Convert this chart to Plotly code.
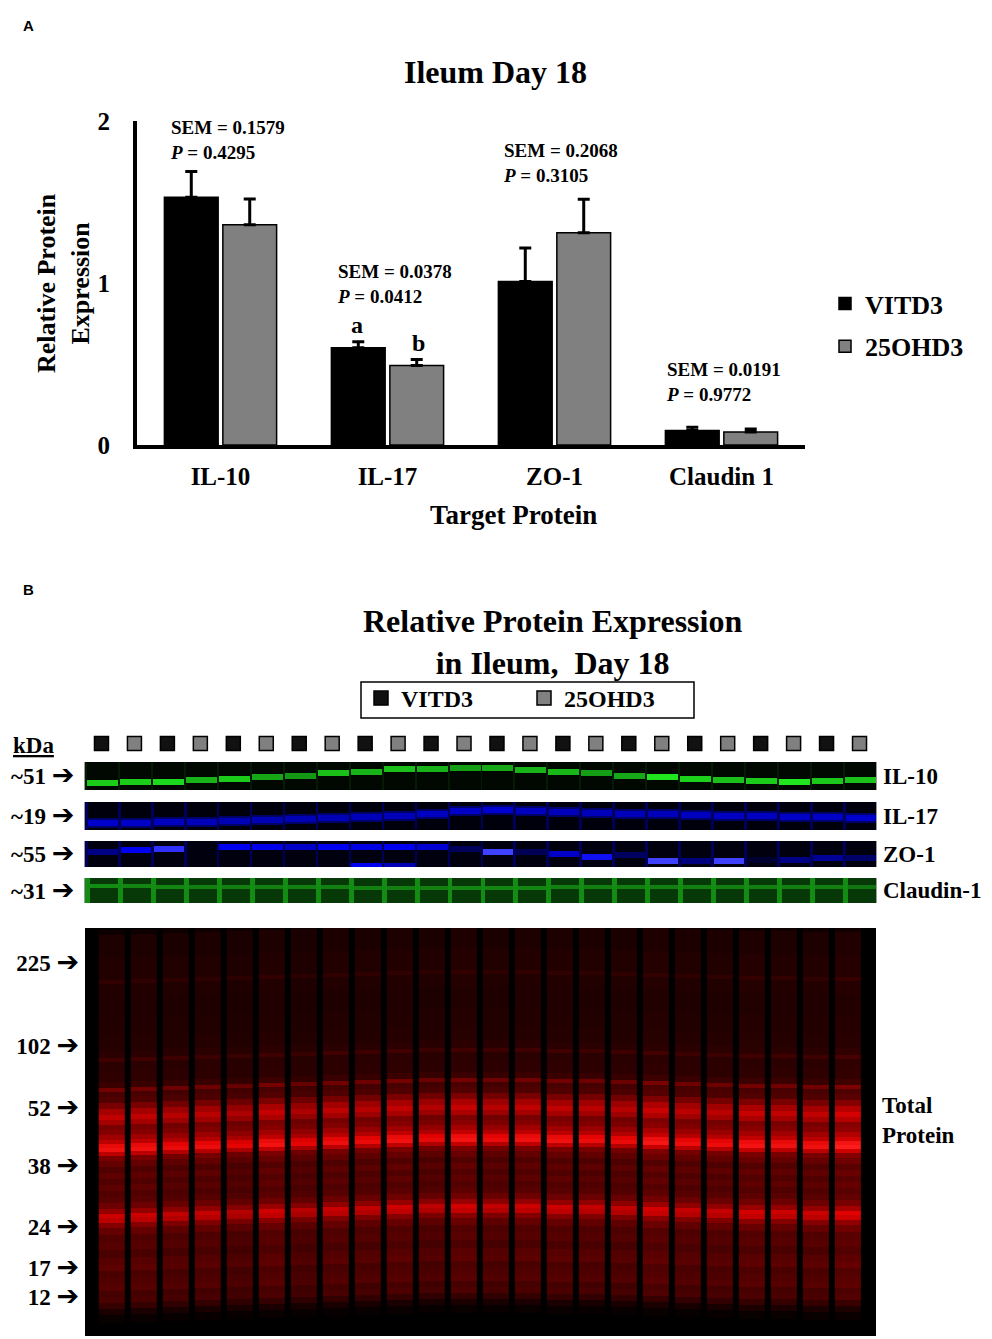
import plotly.graph_objects as go

# --- panel A data ---
CATEGORIES = ["IL-10", "IL-17", "ZO-1", "Claudin 1"]
VITD3 = [1.53, 0.60, 1.01, 0.09]
OHD3 = [1.36, 0.49, 1.31, 0.08]
SEM = [0.1579, 0.0378, 0.2068, 0.0191]
P_VALUES = ["0.4295", "0.0412", "0.3105", "0.9772"]
Y_TICKS = [0, 1, 2]

# --- panel B data ---
N_LANES = 24
LANE_GROUP = ["VITD3", "25OHD3"] * 12
STRIP_NAMES = ["IL-10", "IL-17", "ZO-1", "Claudin-1"]
STRIP_KDA = ["~51", "~19", "~55", "~31"]

# band centre (px from strip top) and brightness per lane
IL10_POS = [21, 20, 20, 18, 17, 15, 14, 11, 10, 7, 7, 6, 6, 8, 10, 11, 14, 15, 17, 18, 19, 20, 19, 18]
IL10_INT = [0.8, 0.8, 0.85, 0.7, 0.8, 0.65, 0.6, 0.75, 0.7, 0.75, 0.7, 0.62, 0.66, 0.7, 0.72,
            0.62, 0.66, 0.9, 0.82, 0.75, 0.8, 0.9, 0.78, 0.76]
IL17_POS = [21, 21, 20, 20, 19, 18, 17, 16, 15, 14, 12, 9, 8, 9, 10, 11, 12, 12, 13, 14, 14, 15, 15, 16]
IL17_INT = [0.68, 0.66, 0.64, 0.62, 0.6, 0.6, 0.6, 0.6, 0.62, 0.62, 0.64, 0.66, 0.7, 0.64,
            0.62, 0.62, 0.62, 0.62, 0.64, 0.64, 0.64, 0.66, 0.66, 0.68]
ZO1_POS = [11, 9, 8, 8, 6, 6, 6, 6, 6, 6, 6, 8, 11, 11, 13, 16, 14, 20, 20, 20, 19, 19, 17, 17]
ZO1_INT = [0.45, 0.8, 0.95, 0.05, 0.8, 0.78, 0.66, 0.8, 0.76, 0.8, 0.7, 0.3, 1.0, 0.28,
           0.66, 0.85, 0.32, 1.0, 0.42, 1.0, 0.16, 0.45, 0.5, 0.35]
ZO1_LOW_INT = [0, 0, 0, 0, 0, 0, 0, 0, 0.8, 0.6, 0, 0, 0, 0, 0, 0, 0, 0, 0, 0, 0, 0, 0, 0]
CLD_POS = [8, 8, 9, 9, 9, 9, 9, 9, 10, 10, 10, 10, 10, 10, 9, 9, 9, 9, 9, 9, 9, 9, 9, 9]
CLD_INT = [0.55, 0.52, 0.52, 0.5, 0.5, 0.5, 0.5, 0.5, 0.5, 0.5, 0.5, 0.52, 0.52, 0.52,
           0.5, 0.5, 0.5, 0.5, 0.5, 0.5, 0.5, 0.5, 0.5, 0.46]

# total protein lane profile: distance from blot top (px) and brightness
PROFILE_Y = [0, 4, 10, 25, 35, 50, 54, 58, 80, 100, 118, 128, 132, 136, 150, 158, 162, 165,
             172, 178, 184, 190, 194, 199, 204, 209, 214, 218, 222, 226, 230, 236, 242, 248,
             254, 260, 266, 272, 278, 284, 288, 292, 297, 303, 310, 318, 326, 334, 340, 346,
             353, 360, 366, 372, 378, 384, 390, 400, 408]
PROFILE_I = [0.0, 0.05, 0.1, 0.1, 0.12, 0.12, 0.17, 0.12, 0.11, 0.12, 0.13, 0.15, 0.22, 0.15,
             0.16, 0.2, 0.4, 0.25, 0.28, 0.42, 0.58, 0.68, 0.58, 0.42, 0.46, 0.56, 0.66, 0.86, 0.92,
             0.66, 0.42, 0.35, 0.28, 0.33, 0.28, 0.32, 0.28, 0.31, 0.38, 0.52, 0.72, 0.66, 0.46, 0.35,
             0.28, 0.3, 0.26, 0.3, 0.32, 0.26, 0.28, 0.3, 0.24, 0.26, 0.18, 0.09, 0.03, 0.0, 0.0]
LANE_GAIN = [0.95, 0.95, 0.9, 0.92, 0.85, 0.97, 0.85, 0.93, 0.9, 0.96, 0.88, 0.98, 0.9, 0.95,
             0.95, 0.92, 0.9, 1.0, 0.92, 0.92, 0.98, 0.95, 0.95, 1.05]
LANE_SHIFT = [0, -1, -2, -3, -4, -5, -6, -7, -8, -9, -10, -10, -10, -10, -9, -9, -8, -7, -6,
              -5, -4, -4, -3, -3]
MARKER_KDA = ["225", "102", "52", "38", "24", "17", "12"]
MARKER_POS = [35, 118, 180, 238, 299, 340, 369]

# the page body adds an 8px margin, so the figure is drawn 8px smaller and offset
PAD = 8
W, H = 992 - PAD, 1339 - PAD
SERIF = "Liberation Serif"
BLACK, GRAY = "#000000", "#808080"
GREEN = [[0, "#000000"], [1, "#22ff22"]]
BLUE = [[0, "#000000"], [0.8, "#0000f0"], [1, "#4040ff"]]
RED = [[0, "#000000"], [0.35, "#6a0000"], [0.75, "#e00000"], [1, "#ff2020"]]
ARROW = " <span style='font-family:DejaVu Sans;font-size:27px'>➔</span>"


def px_x(p):
    return (p - PAD) / W


def px_y(p):
    return 1 - (p - PAD) / H


def strip_grid(height, bg, sep, sep_w, bands):
    """Cells of a blot strip: a separator column then the lane column."""
    x_edges = []
    for i in range(N_LANES):
        x_edges += [i - 0.5, i - 0.5 + sep_w]
    x_edges.append(N_LANES - 0.5)
    z = []
    for r in range(height):
        yc = r + 0.5
        row = []
        for i in range(N_LANES):
            v = bg
            for pos, inten, thick in bands:
                if abs(yc - pos[i]) <= thick / 2:
                    v = max(v, inten[i])
            row += [sep, v]
        z.append(row)
    return x_edges, list(range(height + 1)), z


fig = go.Figure()

# ---------------- panel A: bar chart ----------------
fig.add_trace(go.Bar(
    x=CATEGORIES, y=VITD3, name="VITD3", legendgroup="a1",
    marker=dict(color=BLACK, line=dict(color=BLACK, width=1.5)),
    error_y=dict(type="data", array=SEM, arrayminus=[0] * 4, symmetric=False,
                 color=BLACK, thickness=3, width=6),
))
fig.add_trace(go.Bar(
    x=CATEGORIES, y=OHD3, name="25OHD3", legendgroup="a2",
    marker=dict(color=GRAY, line=dict(color=BLACK, width=1.5)),
    error_y=dict(type="data", array=SEM, arrayminus=[0] * 4, symmetric=False,
                 color=BLACK, thickness=3, width=6),
))

# ---------------- panel B: lane markers ----------------
for grp, col in [("VITD3", "#111111"), ("25OHD3", GRAY)]:
    lanes = [i for i in range(N_LANES) if LANE_GROUP[i] == grp]
    fig.add_trace(go.Scatter(
        x=lanes, y=[0] * len(lanes), mode="markers", name=grp,
        xaxis="x2", yaxis="y2", legend="legend2",
        marker=dict(symbol="square", size=14, color=col, line=dict(color="#000000", width=1.5)),
    ))

# ---------------- panel B: antibody strips ----------------
strips = [
    ("y3", 28, 0.03, 0.1, 0.06, [(IL10_POS, IL10_INT, 5)], GREEN),
    ("y4", 28, 0.04, 0.3, 0.08, [(IL17_POS, [0.35] * N_LANES, 9), (IL17_POS, IL17_INT, 5)], BLUE),
    ("y5", 26, 0.05, 0.3, 0.08, [(ZO1_POS, ZO1_INT, 6), ([24] * N_LANES, ZO1_LOW_INT, 4)], BLUE),
    ("y6", 25, 0.22, 0.55, 0.15, [(CLD_POS, CLD_INT, 3)], GREEN),
]
for yax, h, bg, sep, sep_w, bands, cs in strips:
    xe, ye, z = strip_grid(h, bg, sep, sep_w, bands)
    fig.add_trace(go.Heatmap(x=xe, y=ye, z=z, xaxis="x2", yaxis=yax, colorscale=cs,
                             zmin=0, zmax=1, showscale=False, hoverinfo="skip"))

# ---------------- panel B: total protein ----------------
fig.add_trace(go.Heatmap(x=[-0.84, 23.875], y=[0, 408], z=[[0]], xaxis="x3", yaxis="y7",
                         colorscale=RED, zmin=0, zmax=1, showscale=False, hoverinfo="skip"))
for i in range(N_LANES):
    fig.add_trace(go.Heatmap(
        x=[i - 0.41, i + 0.41], y=[p + LANE_SHIFT[i] for p in PROFILE_Y],
        z=[[min(1, v * LANE_GAIN[i])] for v in PROFILE_I],
        xaxis="x3", yaxis="y7", colorscale=RED, zmin=0, zmax=1, showscale=False,
        hoverinfo="skip"))

bold = dict(family=SERIF, color="black", weight="bold")
annotations = [
    dict(text="A", x=px_x(21), y=px_y(26), xanchor="left", yanchor="middle",
         font=dict(family="Liberation Sans", size=15, color="black", weight="bold")),
    dict(text="B", x=px_x(21), y=px_y(590), xanchor="left", yanchor="middle",
         font=dict(family="Liberation Sans", size=15, color="black", weight="bold")),
    dict(text="Ileum Day 18", x=px_x(495), y=px_y(72), xanchor="center", yanchor="middle",
         font=dict(size=32, **bold)),
    dict(text="Relative Protein<br>Expression", x=px_x(64), y=px_y(283), textangle=-90,
         xanchor="center", yanchor="middle", font=dict(size=26, **bold)),
    dict(text="Target Protein", x=px_x(513), y=px_y(515), xanchor="center", yanchor="middle",
         font=dict(size=27, **bold)),
    dict(text="Relative Protein Expression<br>in Ileum,  Day 18", x=px_x(552), y=px_y(642),
         xanchor="center", yanchor="middle", font=dict(size=32, **bold)),
    dict(text="<u>kDa</u>", x=px_x(11), y=px_y(745), xanchor="left", yanchor="middle",
         font=dict(size=23, **bold)),
    dict(text="Total<br>Protein", x=px_x(880), y=px_y(1120), xanchor="left", yanchor="middle",
         align="left", font=dict(size=23, **bold)),
]
stat_left = [168, 335, 501, 664]
stat_mid = [140, 284, 163, 382]
for k in range(4):
    annotations.append(dict(
        text=f"SEM = {SEM[k]:.4f}<br><i>P</i> = {P_VALUES[k]}", x=px_x(stat_left[k]),
        y=px_y(stat_mid[k]), xanchor="left", yanchor="middle", align="left",
        font=dict(size=19, **bold)))
for letter, vals, shift in [("a", VITD3, -31), ("b", OHD3, 31)]:
    annotations.append(dict(text=letter, xref="x", yref="y", x=CATEGORIES[1],
                            y=vals[1] + SEM[1], xshift=shift, yshift=2, yanchor="bottom",
                            showarrow=False, font=dict(size=24, **bold)))
for k, yax in enumerate(["y3", "y4", "y5", "y6"]):
    annotations.append(dict(text=STRIP_NAMES[k], xref="paper", yref=f"{yax} domain",
                            x=px_x(881), y=0.5, xanchor="left", yanchor="middle",
                            showarrow=False, font=dict(size=23, **bold)))
for a in annotations:
    a.setdefault("xref", "paper")
    a.setdefault("yref", "paper")
    a.setdefault("showarrow", False)

strip_dom = {"y3": (762, 790), "y4": (802, 830), "y5": (841, 867), "y6": (878, 903)}
strip_h = {"y3": 28, "y4": 28, "y5": 26, "y6": 25}
layout_axes = {}
for k, yax in enumerate(["y3", "y4", "y5", "y6"]):
    top, bot = strip_dom[yax]
    name = "yaxis" + yax[1:]
    layout_axes[name] = dict(
        domain=[px_y(bot), px_y(top)], anchor="x2", range=[strip_h[yax], 0],
        showgrid=False, zeroline=False, showline=True, mirror=True, linecolor="#9a9a9a",
        linewidth=1, ticks="", automargin=False,
        tickvals=[strip_h[yax] / 2], ticktext=[STRIP_KDA[k] + ARROW],
        tickfont=dict(size=23, **bold), ticklabelstandoff=5)

fig.update_layout(
    width=W, height=H, margin=dict(l=0, r=0, t=0, b=0, autoexpand=False),
    paper_bgcolor="white", plot_bgcolor="white",
    barmode="group", bargap=0.30, bargroupgap=0.08,
    font=dict(family=SERIF, color="black"),
    xaxis=dict(domain=[px_x(137), px_x(805)], anchor="y", showline=True, linewidth=4,
               linecolor="black", ticks="", showgrid=False, automargin=False,
               tickfont=dict(size=25, **bold), ticklabelstandoff=6),
    yaxis=dict(domain=[px_y(445), px_y(121)], anchor="x", range=[0, 2], tickvals=Y_TICKS,
               showline=True, linewidth=4, linecolor="black", ticks="", showgrid=False,
               zeroline=False, automargin=False, tickfont=dict(size=25, **bold),
               ticklabelstandoff=18),
    xaxis2=dict(domain=[px_x(85), px_x(876)], anchor="y2", range=[-0.5, N_LANES - 0.5],
                visible=False, automargin=False),
    yaxis2=dict(domain=[px_y(752), px_y(735)], anchor="x2", range=[-1, 1], visible=False,
                automargin=False),
    xaxis3=dict(domain=[px_x(85), px_x(876)], anchor="y7", range=[-0.84, 23.875],
                visible=False, automargin=False),
    yaxis7=dict(domain=[px_y(1336), px_y(928)], anchor="x3", range=[408, 0],
                showgrid=False, zeroline=False, showline=False, ticks="", automargin=False,
                tickvals=MARKER_POS, ticktext=[m + ARROW for m in MARKER_KDA],
                tickfont=dict(size=23, **bold), ticklabelstandoff=5),
    legend=dict(x=px_x(825), y=px_y(280), xanchor="left", yanchor="top",
                font=dict(size=26, **bold), tracegroupgap=6, bgcolor="rgba(0,0,0,0)"),
    legend2=dict(x=px_x(361), y=px_y(676), xanchor="left", yanchor="top",
                 orientation="h", entrywidth=118, borderwidth=0,
                 font=dict(size=24, **bold), bgcolor="rgba(0,0,0,0)"),
    shapes=[dict(type="rect", xref="paper", yref="paper", x0=px_x(361), x1=px_x(694),
                 y0=px_y(718), y1=px_y(682), line=dict(color="black", width=1.5),
                 layer="below")],
    annotations=annotations,
    showlegend=True,
)
fig.update_layout(**layout_axes)

fig.write_html("out.html")
